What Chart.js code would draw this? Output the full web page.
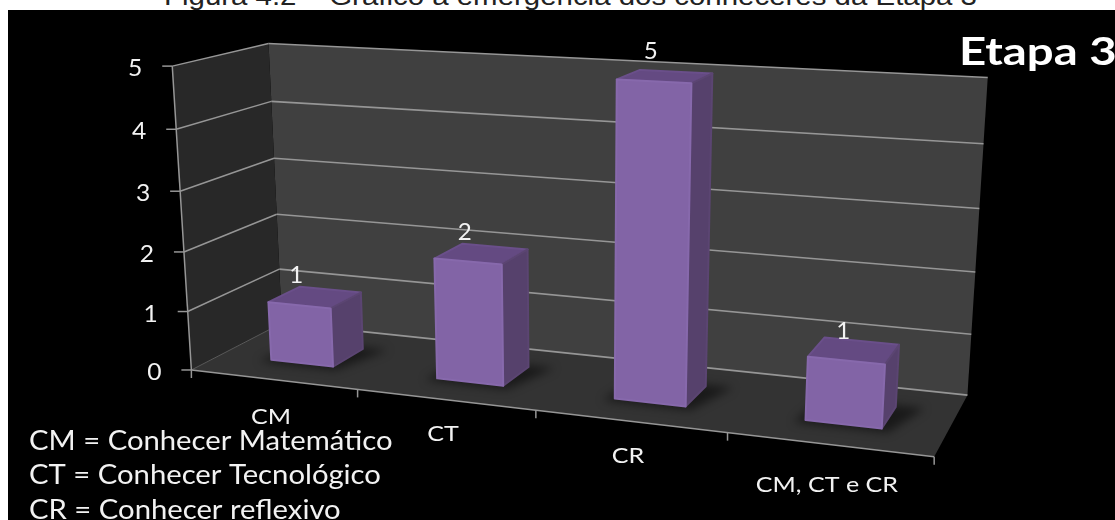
<!DOCTYPE html>
<html lang="pt">
<head>
<meta charset="utf-8">
<title>Etapa 3</title>
<script src="https://cdn.jsdelivr.net/npm/chart.js@4"></script>
<style>
  html, body { margin: 0; padding: 0; background: #fff; overflow: hidden; }
  #stage { position: relative; width: 1115px; height: 520px; overflow: hidden; }
  #caption {
    position: absolute; left: 164px; top: -19px; white-space: nowrap;
    font: 25px "Liberation Sans", Arial, sans-serif; color: #222; line-height: 30px;
    transform: scaleX(1.177); transform-origin: 0 0;
  }
  canvas { position: absolute; left: 0; top: 0; }
</style>
</head>
<body>
<div id="stage">
  <div id="caption">Figura 4.2 – Gráfico à emergência dos conheceres da Etapa 3</div>
  <canvas id="chart" width="1115" height="520"></canvas>
</div>
<script>
// Chart content
const categories = ['CM', 'CT', 'CR', 'CM, CT e CR'];
const counts = [1, 2, 5, 1];
const valueTicks = [0, 1, 2, 3, 4, 5];
const stageTitle = 'Etapa 3';
const glossary = [
  'CM = Conhecer Matemático',
  'CT = Conhecer Tecnológico',
  'CR = Conhecer reflexivo'
];

// Depth span occupied by the columns on the floor, and their share of a category.
const BAR_NEAR = 0.32;
const BAR_FAR = 0.68;
const BAR_SHARE = 0.38;

// Camera calibration: [across, up, depth, screenX, screenY] with all three
// world axes running 0..1. A projective map is fitted to these anchors.
const anchors = [
  [0, 1.0, 0, 172.0, 65.3], [0, 0.8, 0, 176.8, 128.0], [0, 0.6, 0, 180.0, 190.7],
  [0, 0.4, 0, 184.0, 251.0], [0, 0.2, 0, 187.5, 310.0], [0, 0.0, 0, 192.9, 370.0],
  [0, 1.0, 1, 268.6, 43.3], [0, 0.8, 1, 270.7, 101.3], [0, 0.6, 1, 274.0, 158.7],
  [0, 0.4, 1, 276.8, 214.3], [0, 0.2, 1, 279.6, 269.3], [0, 0.0, 1, 282.5, 324.0],
  [1, 1.0, 1, 987.9, 77.3], [1, 0.8, 1, 983.6, 143.3], [1, 0.6, 1, 979.3, 208.3],
  [1, 0.4, 1, 975.7, 271.7], [1, 0.2, 1, 971.0, 333.3], [1, 0.0, 1, 967.5, 394.3],
  [0.25, 0, 0, 357.9, 390.0], [0.5, 0, 0, 535.0, 412.0],
  [0.75, 0, 0, 727.5, 433.5], [1, 0, 0, 934.5, 456.0],
  [0.5775, 1, 0.32, 615.7, 81.7], [0.6725, 1, 0.32, 692.5, 85.0],
  [0.5775, 0, 0.32, 613.0, 398.0], [0.6725, 0, 0.32, 687.0, 406.7],
  [0.8275, 0, 0.32, 804.0, 420.0], [0.9225, 0, 0.32, 883.0, 428.0],
  [0.0775, 0, 0.32, 270.0, 360.0], [0.1725, 0, 0.32, 333.0, 367.3]
];

// Least-squares fit of the eleven projective coefficients.
function fitProjection(points) {
  const n = 11;
  const A = Array.from({ length: n }, () => new Array(n + 1).fill(0));
  const addRow = (row, rhs) => {
    for (let i = 0; i < n; i++) {
      for (let j = 0; j < n; j++) A[i][j] += row[i] * row[j];
      A[i][n] += row[i] * rhs;
    }
  };
  for (const [x, y, z, sx, sy] of points) {
    const X = sx / 1000, Y = sy / 1000;
    addRow([x, y, z, 1, 0, 0, 0, 0, -X * x, -X * y, -X * z], X);
    addRow([0, 0, 0, 0, x, y, z, 1, -Y * x, -Y * y, -Y * z], Y);
  }
  for (let c = 0; c < n; c++) {
    let p = c;
    for (let r = c + 1; r < n; r++) if (Math.abs(A[r][c]) > Math.abs(A[p][c])) p = r;
    [A[c], A[p]] = [A[p], A[c]];
    for (let r = 0; r < n; r++) {
      if (r === c) continue;
      const f = A[r][c] / A[c][c];
      for (let k = c; k <= n; k++) A[r][k] -= f * A[c][k];
    }
  }
  return A.map((row, i) => row[n] / row[i]);
}

const coef = fitProjection(anchors);
function project(x, y, z) {
  const w = coef[8] * x + coef[9] * y + coef[10] * z + 1;
  return [
    1000 * (coef[0] * x + coef[1] * y + coef[2] * z + coef[3]) / w,
    1000 * (coef[4] * x + coef[5] * y + coef[6] * z + coef[7]) / w
  ];
}

const FONT_UI = 'Lato, "Open Sans", sans-serif';
const labelDrop = [44, 41, 42, 47];

function poly(ctx, pts) {
  ctx.beginPath();
  pts.forEach((p, i) => (i ? ctx.lineTo(p[0], p[1]) : ctx.moveTo(p[0], p[1])));
  ctx.closePath();
}

function face(ctx, pts, fill, edge) {
  poly(ctx, pts);
  ctx.fillStyle = fill;
  ctx.fill();
  ctx.lineJoin = 'round';
  ctx.lineWidth = 2;
  ctx.strokeStyle = edge;
  ctx.stroke();
}

function segment(ctx, a, b, color, width) {
  ctx.beginPath();
  ctx.moveTo(a[0], a[1]);
  ctx.lineTo(b[0], b[1]);
  ctx.strokeStyle = color;
  ctx.lineWidth = width;
  ctx.stroke();
}

function label(ctx, text, x, y, font, color, stretch, align) {
  ctx.save();
  ctx.font = font;
  ctx.fillStyle = color;
  ctx.textAlign = align || 'center';
  ctx.textBaseline = 'alphabetic';
  ctx.translate(x, y);
  ctx.scale(stretch, 1);
  ctx.fillText(text, 0, 0);
  ctx.restore();
}

// Draws the chart's scales and columns as a perspective box.
const perspectiveBars = {
  id: 'perspectiveBars',
  beforeDraw(chart) {
    const ctx = chart.ctx;
    ctx.fillStyle = '#000';
    ctx.fillRect(8, 10, chart.width - 8, chart.height - 10);
  },
  beforeDatasetsDraw(chart) {
    const ctx = chart.ctx;
    const xs = chart.scales.x;
    const ys = chart.scales.y;
    const across = px => (px - xs.left) / (xs.right - xs.left);
    const up = py => (ys.bottom - py) / (ys.bottom - ys.top);
    const gridColor = '#969696';
    const textColor = '#f2f2f2';

    // Walls and floor
    poly(ctx, [project(0, 0, 1), project(1, 0, 1), project(1, 1, 1), project(0, 1, 1)]);
    ctx.fillStyle = '#404040';
    ctx.fill();
    poly(ctx, [project(0, 0, 0), project(0, 0, 1), project(0, 1, 1), project(0, 1, 0)]);
    ctx.fillStyle = '#282828';
    ctx.fill();
    poly(ctx, [project(0, 0, 0), project(1, 0, 0), project(1, 0, 1), project(0, 0, 1)]);
    ctx.fillStyle = '#333333';
    ctx.fill();

    // Horizontal gridlines and value axis
    ys.ticks.forEach(t => {
      const v = up(ys.getPixelForValue(t.value));
      const front = project(0, v, 0);
      segment(ctx, front, project(0, v, 1), t.value > 0 ? gridColor : '#5a5a5a', t.value > 0 ? 1.5 : 1);
      segment(ctx, project(0, v, 1), project(1, v, 1), gridColor, 1.6);
      segment(ctx, [front[0] - 10, front[1]], front, gridColor, 1.5);
      label(ctx, String(t.value), front[0] - 37, front[1] + 10, '23px ' + FONT_UI, textColor, 1.07);
    });
    segment(ctx, project(0, 0, 0), project(0, 1, 0), gridColor, 1.5);

    // Category axis
    segment(ctx, project(0, 0, 0), project(1, 0, 0), gridColor, 1.5);
    categories.forEach((_, i) => {
      const px = xs.getPixelForValue(i);
      const halfStep = (xs.getPixelForValue(1) - xs.getPixelForValue(0)) / 2;
      const edgeLeft = project(across(px - halfStep), 0, 0);
      segment(ctx, edgeLeft, [edgeLeft[0], edgeLeft[1] + 8], gridColor, 1.5);
      if (i === categories.length - 1) {
        const edgeRight = project(across(px + halfStep), 0, 0);
        segment(ctx, edgeRight, [edgeRight[0], edgeRight[1] + 8], gridColor, 1.5);
      }
      const mid = project(across(px), 0, 0);
      label(ctx, xs.getLabelForValue(i), mid[0] - 2, mid[1] + labelDrop[i], '22px ' + FONT_UI, textColor, 1.14);
    });

    // Columns
    const meta = chart.getDatasetMeta(0);
    meta.data.forEach(bar => {
      const l = across(bar.x - bar.width / 2);
      const r = across(bar.x + bar.width / 2);
      const top = up(bar.y);
      const bot = up(bar.base);
      const n = BAR_NEAR, f = BAR_FAR;
      poly(ctx, [project(l - 0.012, bot, n - 0.05), project(r + 0.01, bot, n - 0.05),
                 project(r + 0.035, bot, f + 0.03), project(l, bot, f + 0.03)]);
      ctx.save();
      ctx.filter = 'blur(5px)';
      ctx.fillStyle = 'rgba(0,0,0,0.5)';
      ctx.fill();
      ctx.restore();

      face(ctx, [project(l, top, f), project(r, top, f), project(r, top, n), project(l, top, n)],
        '#644a82', '#6a4f8a');
      face(ctx, [project(r, bot, n), project(r, bot, f), project(r, top, f), project(r, top, n)],
        '#56416c', '#5b4572');
      face(ctx, [project(l, bot, n), project(r, bot, n), project(r, top, n), project(l, top, n)],
        '#8264a6', '#8769ac');
    });

    // Value labels sit above the front top edge of each column
    meta.data.forEach((bar, i) => {
      const mid = project(across(bar.x), up(bar.y), BAR_NEAR);
      label(ctx, String(counts[i]), mid[0] - 3, mid[1] - 22, '23px ' + FONT_UI, textColor, 1.05);
    });

    // Title and glossary
    label(ctx, stageTitle, 959, 65, 'bold 38px ' + FONT_UI, '#ffffff', 1.245, 'left');
    const rows = [450, 484, 519];
    glossary.forEach((line, i) => {
      label(ctx, line, 29, rows[i], '26px ' + FONT_UI, textColor, 1.125, 'left');
    });
    return false;
  }
};

new Chart(document.getElementById('chart'), {
  type: 'bar',
  data: {
    labels: categories,
    datasets: [{ label: stageTitle, data: counts, barPercentage: BAR_SHARE, categoryPercentage: 1 }]
  },
  options: {
    responsive: false,
    animation: false,
    layout: { padding: 0 },
    plugins: { legend: { display: false }, title: { display: false }, tooltip: { enabled: false } },
    scales: {
      x: { grid: { display: false }, ticks: { display: false }, border: { display: false } },
      y: {
        min: valueTicks[0],
        max: valueTicks[valueTicks.length - 1],
        ticks: { display: false, stepSize: 1 },
        grid: { display: false },
        border: { display: false }
      }
    }
  },
  plugins: [perspectiveBars]
});
</script>
</body>
</html>
